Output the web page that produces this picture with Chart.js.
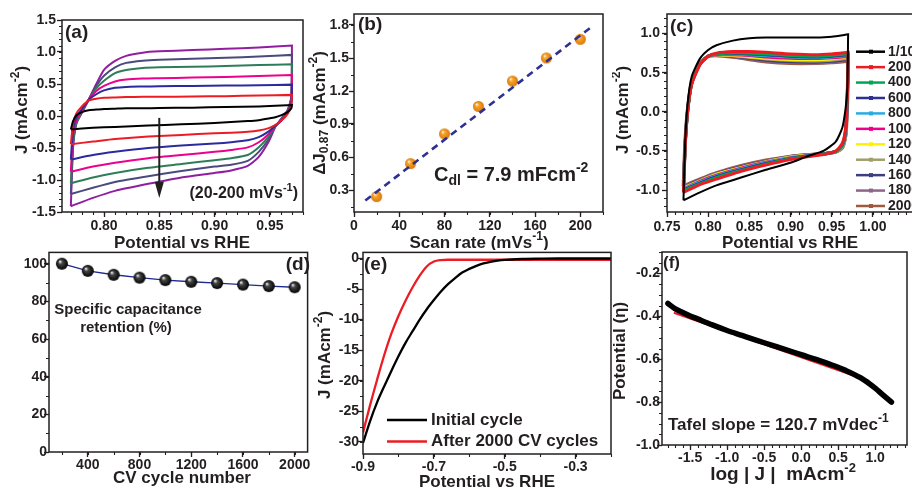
<!DOCTYPE html>
<html>
<head>
<meta charset="utf-8">
<title>Electrochemical characterisation</title>
<script src="https://cdn.jsdelivr.net/npm/chart.js@4.4.1/dist/chart.umd.min.js"></script>
<style>
  html, body { margin:0; padding:0; background:#fff; }
  body { position:relative; width:912px; height:490px; overflow:hidden; }
  canvas { position:absolute; }
</style>
</head>
<body>
<canvas id="pa"></canvas><canvas id="pb"></canvas><canvas id="pc"></canvas>
<canvas id="pd"></canvas><canvas id="pe"></canvas><canvas id="pf"></canvas>
<script>
// ---------- (a) CVs in the non-faradaic window, 20-200 mV/s ----------
const cvScanRates = ['20', '50', '80', '110', '140', '170', '200'];
const cvAnodicE   = [0.770, 0.772, 0.775, 0.780, 0.786, 0.793, 0.800, 0.810, 0.820, 0.835, 0.850, 0.880, 0.910, 0.940, 0.970];
const cvCathodicE = [0.970, 0.9695, 0.966, 0.960, 0.955, 0.949, 0.940, 0.930, 0.915, 0.900, 0.870, 0.840, 0.810, 0.790, 0.770];
const cvAn20  = [-0.21, -0.08, 0.01, 0.06, 0.09, 0.10, 0.11, 0.115, 0.12, 0.12, 0.125, 0.13, 0.14, 0.15, 0.17];
const cvCa20  = [0.17, 0.12, 0.06, 0.01, -0.02, -0.04, -0.065, -0.08, -0.095, -0.11, -0.13, -0.15, -0.17, -0.185, -0.21];
const cvAn50  = [-0.44, -0.12, 0.04, 0.15, 0.24, 0.27, 0.285, 0.29, 0.295, 0.30, 0.30, 0.305, 0.31, 0.32, 0.33];
const cvCa50  = [0.33, 0.16, 0.03, -0.08, -0.14, -0.19, -0.225, -0.245, -0.26, -0.27, -0.295, -0.32, -0.36, -0.40, -0.44];
const cvAn80  = [-0.68, -0.20, -0.02, 0.11, 0.25, 0.34, 0.40, 0.44, 0.455, 0.46, 0.465, 0.47, 0.475, 0.48, 0.49];
const cvCa80  = [0.49, 0.20, 0.05, -0.08, -0.15, -0.24, -0.33, -0.38, -0.41, -0.43, -0.46, -0.50, -0.56, -0.61, -0.68];
const cvAn110 = [-0.87, -0.30, -0.06, 0.09, 0.25, 0.39, 0.47, 0.54, 0.57, 0.585, 0.59, 0.60, 0.61, 0.625, 0.64];
const cvCa110 = [0.64, 0.24, 0.06, -0.08, -0.15, -0.28, -0.41, -0.49, -0.53, -0.56, -0.61, -0.66, -0.73, -0.79, -0.87];
const cvAn140 = [-1.05, -0.40, -0.10, 0.07, 0.25, 0.43, 0.55, 0.67, 0.72, 0.75, 0.76, 0.77, 0.78, 0.795, 0.81];
const cvCa140 = [0.81, 0.27, 0.07, -0.07, -0.16, -0.32, -0.49, -0.61, -0.66, -0.69, -0.75, -0.81, -0.89, -0.96, -1.05];
const cvAn170 = [-1.22, -0.45, -0.11, 0.06, 0.25, 0.47, 0.63, 0.76, 0.83, 0.865, 0.88, 0.895, 0.91, 0.93, 0.955];
const cvCa170 = [0.955, 0.29, 0.08, -0.06, -0.16, -0.36, -0.56, -0.70, -0.76, -0.79, -0.86, -0.94, -1.03, -1.12, -1.22];
const cvAn200 = [-1.41, -0.50, -0.12, 0.05, 0.25, 0.50, 0.72, 0.86, 0.94, 0.99, 1.01, 1.03, 1.05, 1.07, 1.10];
const cvCa200 = [1.10, 0.30, 0.09, -0.05, -0.17, -0.40, -0.64, -0.78, -0.85, -0.89, -0.96, -1.06, -1.17, -1.28, -1.41];
const aPotentialTicks = [0.80, 0.85, 0.90, 0.95];
const aCurrentTicks   = [-1.5, -1.0, -0.5, 0.0, 0.5, 1.0, 1.5];
const aArrowE = 0.85, aArrowFrom = -0.03, aArrowTo = -1.28;

// ---------- (b) double-layer capacitance ----------
const scanRates = [20, 50, 80, 110, 140, 170, 200];
const deltaJ    = [0.24, 0.54, 0.81, 1.06, 1.29, 1.50, 1.67];
const cdl = 7.9;              // mF cm^-2, slope of the fit
const cdlIntercept = 0.125;   // mA cm^-2
const cdlFitRange = [10, 210];
const bRateTicks  = [0, 40, 80, 120, 160, 200];
const bDeltaTicks = [0.3, 0.6, 0.9, 1.2, 1.5, 1.8];

// ---------- (c) CVs over 2000 cycles ----------
const cycleLabels = ['1/10', '200', '400', '600', '800', '1000', '1200', '1400', '1600', '1800', '2000'];
const cycAnodicE   = [0.770, 0.772, 0.775, 0.780, 0.790, 0.800, 0.810, 0.830, 0.850, 0.870, 0.900, 0.930, 0.950, 0.970];
const cycCathodicE = [0.970, 0.969, 0.967, 0.963, 0.955, 0.940, 0.920, 0.900, 0.870, 0.840, 0.810, 0.790, 0.770];
const cycAn1    = [-1.13, -0.40, 0.10, 0.45, 0.68, 0.79, 0.85, 0.91, 0.94, 0.95, 0.95, 0.95, 0.96, 0.99];
const cycCa1    = [0.99, 0.30, 0.05, -0.20, -0.38, -0.50, -0.57, -0.65, -0.74, -0.84, -0.94, -1.03, -1.13];
const cycAn200  = [-1.03, -0.45, 0.00, 0.35, 0.60, 0.71, 0.75, 0.77, 0.77, 0.76, 0.74, 0.73, 0.74, 0.76];
const cycCa200  = [0.76, 0.20, -0.20, -0.40, -0.50, -0.545, -0.575, -0.61, -0.68, -0.76, -0.86, -0.93, -1.03];
const cycAn400  = [-1.01, -0.44, 0.00, 0.36, 0.61, 0.71, 0.74, 0.755, 0.75, 0.74, 0.72, 0.71, 0.72, 0.74];
const cycCa400  = [0.74, 0.18, -0.22, -0.42, -0.505, -0.54, -0.57, -0.60, -0.67, -0.75, -0.84, -0.92, -1.01];
const cycAn600  = [-1.00, -0.43, 0.01, 0.36, 0.61, 0.71, 0.74, 0.75, 0.74, 0.73, 0.71, 0.70, 0.71, 0.73];
const cycCa600  = [0.73, 0.16, -0.24, -0.43, -0.505, -0.54, -0.565, -0.595, -0.66, -0.74, -0.83, -0.91, -1.00];
const cycAn800  = [-0.99, -0.43, 0.01, 0.37, 0.61, 0.71, 0.735, 0.74, 0.73, 0.715, 0.70, 0.69, 0.70, 0.72];
const cycCa800  = [0.72, 0.15, -0.25, -0.44, -0.51, -0.54, -0.56, -0.59, -0.65, -0.73, -0.82, -0.90, -0.99];
const cycAn1000 = [-0.985, -0.42, 0.01, 0.37, 0.615, 0.71, 0.73, 0.73, 0.72, 0.70, 0.685, 0.68, 0.69, 0.71];
const cycCa1000 = [0.71, 0.14, -0.26, -0.44, -0.51, -0.54, -0.56, -0.585, -0.645, -0.72, -0.81, -0.89, -0.985];
const cycAn1200 = [-0.975, -0.42, 0.015, 0.37, 0.615, 0.71, 0.73, 0.72, 0.705, 0.685, 0.67, 0.665, 0.675, 0.70];
const cycCa1200 = [0.70, 0.13, -0.27, -0.45, -0.51, -0.54, -0.555, -0.58, -0.64, -0.715, -0.80, -0.885, -0.975];
const cycAn1400 = [-0.97, -0.41, 0.015, 0.375, 0.62, 0.71, 0.725, 0.715, 0.695, 0.675, 0.655, 0.65, 0.66, 0.685];
const cycCa1400 = [0.685, 0.12, -0.28, -0.45, -0.51, -0.54, -0.555, -0.575, -0.635, -0.71, -0.795, -0.875, -0.97];
const cycAn1600 = [-0.965, -0.41, 0.02, 0.375, 0.62, 0.71, 0.725, 0.71, 0.685, 0.66, 0.64, 0.635, 0.645, 0.67];
const cycCa1600 = [0.67, 0.11, -0.29, -0.455, -0.51, -0.535, -0.55, -0.575, -0.63, -0.70, -0.79, -0.87, -0.965];
const cycAn1800 = [-0.955, -0.405, 0.02, 0.38, 0.62, 0.71, 0.72, 0.705, 0.675, 0.65, 0.63, 0.625, 0.635, 0.66];
const cycCa1800 = [0.66, 0.10, -0.30, -0.46, -0.51, -0.535, -0.55, -0.57, -0.625, -0.695, -0.785, -0.865, -0.955];
const cycAn2000 = [-0.95, -0.40, 0.02, 0.38, 0.62, 0.71, 0.72, 0.70, 0.67, 0.64, 0.62, 0.62, 0.63, 0.65];
const cycCa2000 = [0.65, 0.10, -0.30, -0.46, -0.51, -0.535, -0.55, -0.57, -0.62, -0.69, -0.78, -0.86, -0.95];
const cPotentialTicks = [0.75, 0.80, 0.85, 0.90, 0.95, 1.00];
const cCurrentTicks   = [-1.0, -0.5, 0.0, 0.5, 1.0];

// ---------- (d) capacitance retention ----------
const cycleNumber = [200, 400, 600, 800, 1000, 1200, 1400, 1600, 1800, 2000];
const retention   = [100, 96.2, 94.1, 92.6, 91.3, 90.4, 89.7, 88.9, 88.1, 87.5];
const dCycleTicks     = [400, 800, 1200, 1600, 2000];
const dRetentionTicks = [0, 20, 40, 60, 80, 100];

// ---------- (e) polarisation curves ----------
const sweepE   = [-0.90, -0.88, -0.86, -0.84, -0.82, -0.80, -0.78, -0.76, -0.74, -0.72, -0.70, -0.68, -0.66, -0.64,
                  -0.62, -0.60, -0.58, -0.56, -0.54, -0.52, -0.50, -0.45, -0.40, -0.35, -0.30, -0.25, -0.20];
const initialJ = [-30.2, -26.6, -23.5, -20.9, -18.4, -16.0, -13.8, -11.9, -10.0, -8.3, -6.8, -5.4, -4.2, -3.2,
                  -2.3, -1.7, -1.2, -0.8, -0.55, -0.35, -0.22, -0.08, -0.03, 0.0, 0.0, 0.0, 0.0];
const cycledJ  = [-28.5, -24.0, -19.8, -15.8, -12.3, -9.4, -6.9, -4.7, -2.8, -1.3, -0.5, -0.25, -0.2, -0.2,
                  -0.2, -0.2, -0.2, -0.2, -0.2, -0.2, -0.2, -0.2, -0.2, -0.2, -0.2, -0.2, -0.2];
const ePotentialTicks = [-0.9, -0.7, -0.5, -0.3];
const eCurrentTicks   = [-30, -25, -20, -15, -10, -5, 0];

// ---------- (f) Tafel plot ----------
const logJ = [-1.80, -1.70, -1.60, -1.50, -1.40, -1.20, -1.00, -0.80, -0.60, -0.40, -0.20, 0.00, 0.20, 0.40, 0.60, 0.80, 1.00, 1.10, 1.22];
const eta  = [-0.340, -0.365, -0.382, -0.398, -0.412, -0.440, -0.466, -0.489, -0.512, -0.534, -0.556, -0.579, -0.601, -0.625, -0.652, -0.686, -0.735, -0.765, -0.800];
const tafelSlope = 120.7;         // mV per decade
const tafelIntercept = -0.5906;   // V at log|J| = 0
const tafelRange = [-1.72, 0.92];
const fLogJTicks      = [-1.5, -1.0, -0.5, 0.0, 0.5, 1.0];
const fPotentialTicks = [-1.0, -0.8, -0.6, -0.4, -0.2];

// ================= drawing =================
const INK = '#231f20';
const FONT = '"Liberation Sans", Arial, Helvetica, sans-serif';
Chart.defaults.font.family = FONT;
Chart.defaults.color = INK;

const pts = (xs, ys) => xs.map((x, i) => ({ x, y: ys[i] }));
const loop = (anE, anJ, caE, caJ) => pts(anE, anJ).concat(pts(caE, caJ));

function drawRich(ctx, parts, x, y, size, opt = {}) {
  ctx.save();
  ctx.translate(x, y);
  ctx.rotate(opt.rot || 0);
  ctx.fillStyle = opt.color || INK;
  ctx.textBaseline = 'middle';
  ctx.textAlign = 'left';
  const fnt = p => `bold ${p[1] ? Math.round(size * 0.68) : size}px ${FONT}`;
  const ws = parts.map(p => { ctx.font = fnt(p); return ctx.measureText(p[0]).width; });
  const total = ws.reduce((s, w) => s + w, 0);
  const align = opt.align || 'center';
  let cx = align === 'center' ? -total / 2 : align === 'right' ? -total : 0;
  parts.forEach((p, i) => {
    ctx.font = fnt(p);
    const dy = p[1] === 'sup' ? -size * 0.36 : p[1] === 'sub' ? size * 0.3 : 0;
    ctx.fillText(p[0], cx, dy);
    cx += ws[i];
  });
  ctx.restore();
}

function sphere(r, light, mid, dark) {
  const s = Math.ceil(2 * r) + 2;
  const c = document.createElement('canvas');
  c.width = c.height = s;
  const g = c.getContext('2d'), m = s / 2;
  const grd = g.createRadialGradient(m - r * 0.35, m - r * 0.4, r * 0.05, m, m, r);
  grd.addColorStop(0, light); grd.addColorStop(0.32, mid); grd.addColorStop(1, dark);
  g.fillStyle = grd;
  g.beginPath(); g.arc(m, m, r, 0, Math.PI * 2); g.fill();
  return c;
}

function axis(a, dir, size) {
  return {
    type: 'linear', position: dir === 'x' ? 'bottom' : 'left', min: a.min, max: a.max,
    afterFit(s) { if (dir === 'x') s.height = size; else s.width = size; },
    afterBuildTicks(s) { s.ticks = a.ticks.map(v => ({ value: v })); },
    grid: { display: true, drawOnChartArea: false, drawTicks: true, tickLength: 5, tickWidth: 1.3, tickColor: INK },
    border: { display: false },
    ticks: { autoSkip: false, maxRotation: 0, padding: a.pad, color: INK,
             font: { family: FONT, size: 14, weight: 'bold' }, callback: v => a.fmt(v) }
  };
}

function frame(c, spec) {
  const { ctx, chartArea: a, scales: { x, y } } = c;
  ctx.save();
  ctx.strokeStyle = INK;
  ctx.lineWidth = 1.1;
  ctx.beginPath();
  const n0x = Math.ceil(x.min / spec.x.minor - 1e-6), n1x = Math.floor(x.max / spec.x.minor + 1e-6);
  for (let n = n0x; n <= n1x; n++) {
    const px = Math.round(x.getPixelForValue(n * spec.x.minor)) + 0.5;
    ctx.moveTo(px, a.bottom); ctx.lineTo(px, a.bottom + 3);
  }
  const n0y = Math.ceil(y.min / spec.y.minor - 1e-6), n1y = Math.floor(y.max / spec.y.minor + 1e-6);
  for (let n = n0y; n <= n1y; n++) {
    const py = Math.round(y.getPixelForValue(n * spec.y.minor)) + 0.5;
    ctx.moveTo(a.left, py); ctx.lineTo(a.left - 3, py);
  }
  ctx.stroke();
  ctx.lineWidth = 1.5;
  ctx.strokeRect(a.left, a.top, a.right - a.left, a.bottom - a.top);
  ctx.restore();
}

function panel(id, box, plot, spec) {
  const cv = document.getElementById(id);
  cv.width = box.w; cv.height = box.h;
  cv.style.left = box.x + 'px'; cv.style.top = box.y + 'px';
  const yw = plot.l - box.x, xh = box.y + box.h - plot.b;
  return new Chart(cv, {
    type: 'scatter',
    data: { datasets: spec.datasets },
    options: {
      responsive: false, animation: false, devicePixelRatio: 1,
      layout: { padding: { left: 0, top: plot.t - box.y, right: box.x + box.w - plot.r, bottom: 0 } },
      plugins: { legend: { display: false }, tooltip: { enabled: false } },
      scales: { x: axis(spec.x, 'x', xh), y: axis(spec.y, 'y', yw) }
    },
    plugins: [{
      id: 'deco_' + id,
      afterDraw(c) {
        frame(c, spec);
        const ctx = c.ctx;
        ctx.save();
        ctx.translate(-box.x, -box.y);   // page coordinates for annotations
        spec.draw(ctx, c);
        ctx.restore();
      }
    }]
  });
}

const f2 = v => v.toFixed(2), f1 = v => v.toFixed(1), f0 = v => String(Math.round(v));
const ROT = -Math.PI / 2;

// ---- (a) ----
const aColors = ['#000000', '#ed1c24', '#2b2ba0', '#ec008c', '#2f7d58', '#4a4a7e', '#911ea0'];
const aLoops = [[cvAn20, cvCa20], [cvAn50, cvCa50], [cvAn80, cvCa80], [cvAn110, cvCa110],
                [cvAn140, cvCa140], [cvAn170, cvCa170], [cvAn200, cvCa200]];
panel('pa', { x: 0, y: 0, w: 310, h: 250 }, { l: 62, t: 20, r: 303, b: 212 }, {
  datasets: cvScanRates.map((r, i) => ({
    label: r + ' mV/s', data: loop(cvAnodicE, aLoops[i][0], cvCathodicE, aLoops[i][1]),
    showLine: true, borderColor: aColors[i], borderWidth: 2, pointRadius: 0, tension: 0.2
  })),
  x: { min: 0.762, max: 0.98, ticks: aPotentialTicks, minor: 0.01, pad: 1, fmt: f2 },
  y: { min: -1.5, max: 1.5, ticks: aCurrentTicks, minor: 0.1, pad: 1, fmt: f1 },
  draw(ctx, c) {
    const x = c.scales.x, y = c.scales.y, bx = 0, by = 0;
    const ax = x.getPixelForValue(aArrowE) + bx, a0 = y.getPixelForValue(aArrowFrom) + by, a1 = y.getPixelForValue(aArrowTo) + by;
    ctx.strokeStyle = INK; ctx.fillStyle = INK; ctx.lineWidth = 2;
    ctx.beginPath(); ctx.moveTo(ax, a0); ctx.lineTo(ax, a1 - 12); ctx.stroke();
    ctx.beginPath(); ctx.moveTo(ax - 4.5, a1 - 16); ctx.lineTo(ax + 4.5, a1 - 16); ctx.lineTo(ax, a1); ctx.closePath(); ctx.fill();
    drawRich(ctx, [['(a)', '']], 65, 33, 19, { align: 'left' });
    drawRich(ctx, [['(20-200 mVs', ''], ['-1', 'sup'], [')', '']], 298, 194, 16, { align: 'right' });
    drawRich(ctx, [['Potential vs RHE', '']], 182, 243, 17);
    drawRich(ctx, [['J (mAcm', ''], ['-2', 'sup'], [')', '']], 22, 110, 17, { rot: ROT });
  }
});

// ---- (b) ----
const orangeBall = sphere(5.5, '#fff4dc', '#f7a328', '#d9790c');
panel('pb', { x: 305, y: 0, w: 310, h: 250 }, { l: 354, t: 14, r: 603, b: 212 }, {
  datasets: [
    { label: 'fit', data: cdlFitRange.map(s => ({ x: s, y: cdlIntercept + cdl / 1000 * s })),
      showLine: true, borderColor: '#2e3192', borderWidth: 2.6, borderDash: [7, 5], pointRadius: 0 },
    { label: 'ΔJ', data: pts(scanRates, deltaJ), showLine: false, pointStyle: orangeBall, pointRadius: 5.5 }
  ],
  x: { min: 0, max: 220, ticks: bRateTicks, minor: 20, pad: 1, fmt: f0 },
  y: { min: 0.1, max: 1.9, ticks: bDeltaTicks, minor: 0.15, pad: 0, fmt: f1 },
  draw(ctx) {
    drawRich(ctx, [['(b)', '']], 358, 25, 19, { align: 'left' });
    drawRich(ctx, [['C', ''], ['dl', 'sub'], [' = ' + cdl.toFixed(1) + ' mFcm', ''], ['-2', 'sup']], 434, 175, 20, { align: 'left' });
    drawRich(ctx, [['Scan rate (mVs', ''], ['-1', 'sup'], [')', '']], 479, 243, 17);
    drawRich(ctx, [['ΔJ', ''], ['0.87', 'sub'], [' (mAcm', ''], ['-2', 'sup'], [')', '']], 320, 113, 17, { rot: ROT });
  }
});

// ---- (c) ----
const cColors = ['#000000', '#ed1c24', '#00a651', '#2e3192', '#29abe2', '#ec008c', '#fff200', '#a29e6a', '#3d3d7f', '#8e6488', '#9e5a3c'];
const cLoops = [[cycAn1, cycCa1], [cycAn200, cycCa200], [cycAn400, cycCa400], [cycAn600, cycCa600],
                [cycAn800, cycCa800], [cycAn1000, cycCa1000], [cycAn1200, cycCa1200], [cycAn1400, cycCa1400],
                [cycAn1600, cycCa1600], [cycAn1800, cycCa1800], [cycAn2000, cycCa2000]];
panel('pc', { x: 612, y: 0, w: 310, h: 250 }, { l: 667, t: 14, r: 914, b: 212 }, {
  datasets: cycleLabels.map((lab, i) => ({
    label: lab, data: loop(cycAnodicE, cLoops[i][0], cycCathodicE, cLoops[i][1]),
    showLine: true, borderColor: cColors[i], borderWidth: i === 0 ? 2 : (i === 10 ? 3.6 : 3), pointRadius: 0, tension: 0.2
  })),
  x: { min: 0.75, max: 1.05, ticks: cPotentialTicks, minor: 0.01, pad: 1.5, fmt: f2 },
  y: { min: -1.28, max: 1.25, ticks: cCurrentTicks, minor: 0.1, pad: 2, fmt: f1 },
  draw(ctx, c) {
    c.data.datasets.forEach((d, i) => {
      const yy = 51.7 + i * 15.43;
      ctx.strokeStyle = d.borderColor; ctx.lineWidth = 2.5;
      ctx.beginPath(); ctx.moveTo(856, yy); ctx.lineTo(885, yy); ctx.stroke();
      ctx.fillStyle = d.borderColor; ctx.fillRect(869, yy - 2, 4, 4);
      drawRich(ctx, [[d.label, '']], 888, yy, 14, { align: 'left' });
    });
    drawRich(ctx, [['(c)', '']], 670, 27, 19, { align: 'left' });
    drawRich(ctx, [['Potential vs RHE', '']], 790, 243, 17);
    drawRich(ctx, [['J (mAcm', ''], ['-2', 'sup'], [')', '']], 623, 110, 17, { rot: ROT });
  }
});

// ---- (d) ----
const blackBall = sphere(6, '#f0f0f0', '#454545', '#000000');
panel('pd', { x: 0, y: 245, w: 315, h: 245 }, { l: 49, t: 251, r: 312, b: 452 }, {
  datasets: [{ label: 'retention', data: pts(cycleNumber, retention), showLine: true,
               borderColor: '#1f2a8c', borderWidth: 1.4, pointStyle: blackBall, pointRadius: 6 }],
  x: { min: 100, max: 2100, ticks: dCycleTicks, minor: 200, pad: 0, fmt: f0 },
  y: { min: 0, max: 106, ticks: dRetentionTicks, minor: 10, pad: -3, fmt: f0 },
  draw(ctx) {
    drawRich(ctx, [['(d)', '']], 310, 265, 19, { align: 'right' });
    drawRich(ctx, [['Specific capacitance', '']], 128, 310, 15);
    drawRich(ctx, [['retention (%)', '']], 126, 328, 15);
    drawRich(ctx, [['CV cycle number', '']], 182, 478, 17);
  }
});

// ---- (e) ----
panel('pe', { x: 305, y: 245, w: 310, h: 245 }, { l: 363, t: 252, r: 611, b: 454 }, {
  datasets: [
    { label: 'Initial cycle', data: pts(sweepE, initialJ), showLine: true, borderColor: '#000000',
      borderWidth: 2.3, pointRadius: 0, cubicInterpolationMode: 'monotone' },
    { label: 'After 2000 CV cycles', data: pts(sweepE, cycledJ), showLine: true, borderColor: '#ed1c24',
      borderWidth: 2.3, pointRadius: 0, cubicInterpolationMode: 'monotone' }
  ],
  x: { min: -0.9, max: -0.2, ticks: ePotentialTicks, minor: 0.1, pad: 0, fmt: f1 },
  y: { min: -32, max: 1, ticks: eCurrentTicks, minor: 2.5, pad: -1, fmt: f0 },
  draw(ctx, c) {
    c.data.datasets.forEach((d, i) => {
      const yy = 420 + i * 21.5;
      ctx.strokeStyle = d.borderColor; ctx.lineWidth = 2.5;
      ctx.beginPath(); ctx.moveTo(387, yy); ctx.lineTo(427, yy); ctx.stroke();
      drawRich(ctx, [[d.label, '']], 431, yy, 17, { align: 'left' });
    });
    drawRich(ctx, [['(e)', '']], 364, 265, 19, { align: 'left' });
    drawRich(ctx, [['Potential vs RHE', '']], 487, 482, 17);
    drawRich(ctx, [['J (mAcm', ''], ['-2', 'sup'], [')', '']], 325, 355, 17, { rot: ROT });
  }
});

// ---- (f) ----
panel('pf', { x: 605, y: 245, w: 307, h: 245 }, { l: 662, t: 252, r: 907, b: 445 }, {
  datasets: [
    { label: 'data', data: pts(logJ, eta), showLine: true, borderColor: '#000000', borderWidth: 5.5,
      pointRadius: 0, cubicInterpolationMode: 'monotone', borderCapStyle: 'round' },
    { label: 'fit', data: tafelRange.map(v => ({ x: v, y: tafelIntercept - tafelSlope / 1000 * v })),
      showLine: true, borderColor: '#ed1c24', borderWidth: 2, pointRadius: 0 }
  ],
  x: { min: -1.88, max: 1.43, ticks: fLogJTicks, minor: 0.1, pad: 0, fmt: f1 },
  y: { min: -1.0, max: -0.1, ticks: fPotentialTicks, minor: 0.05, pad: -3, fmt: f1 },
  draw(ctx) {
    drawRich(ctx, [['(f)', '']], 663, 263, 17, { align: 'left' });
    drawRich(ctx, [['Tafel slope = ' + tafelSlope.toFixed(1) + ' mVdec', ''], ['-1', 'sup']], 668, 425, 17, { align: 'left' });
    drawRich(ctx, [['log', ''], [' | J |  ', ''], ['mAcm', ''], ['-2', 'sup']], 783, 475, 19);
    drawRich(ctx, [['Potential (η)', '']], 620, 351, 17, { rot: ROT });
  }
});
</script>
</body>
</html>
